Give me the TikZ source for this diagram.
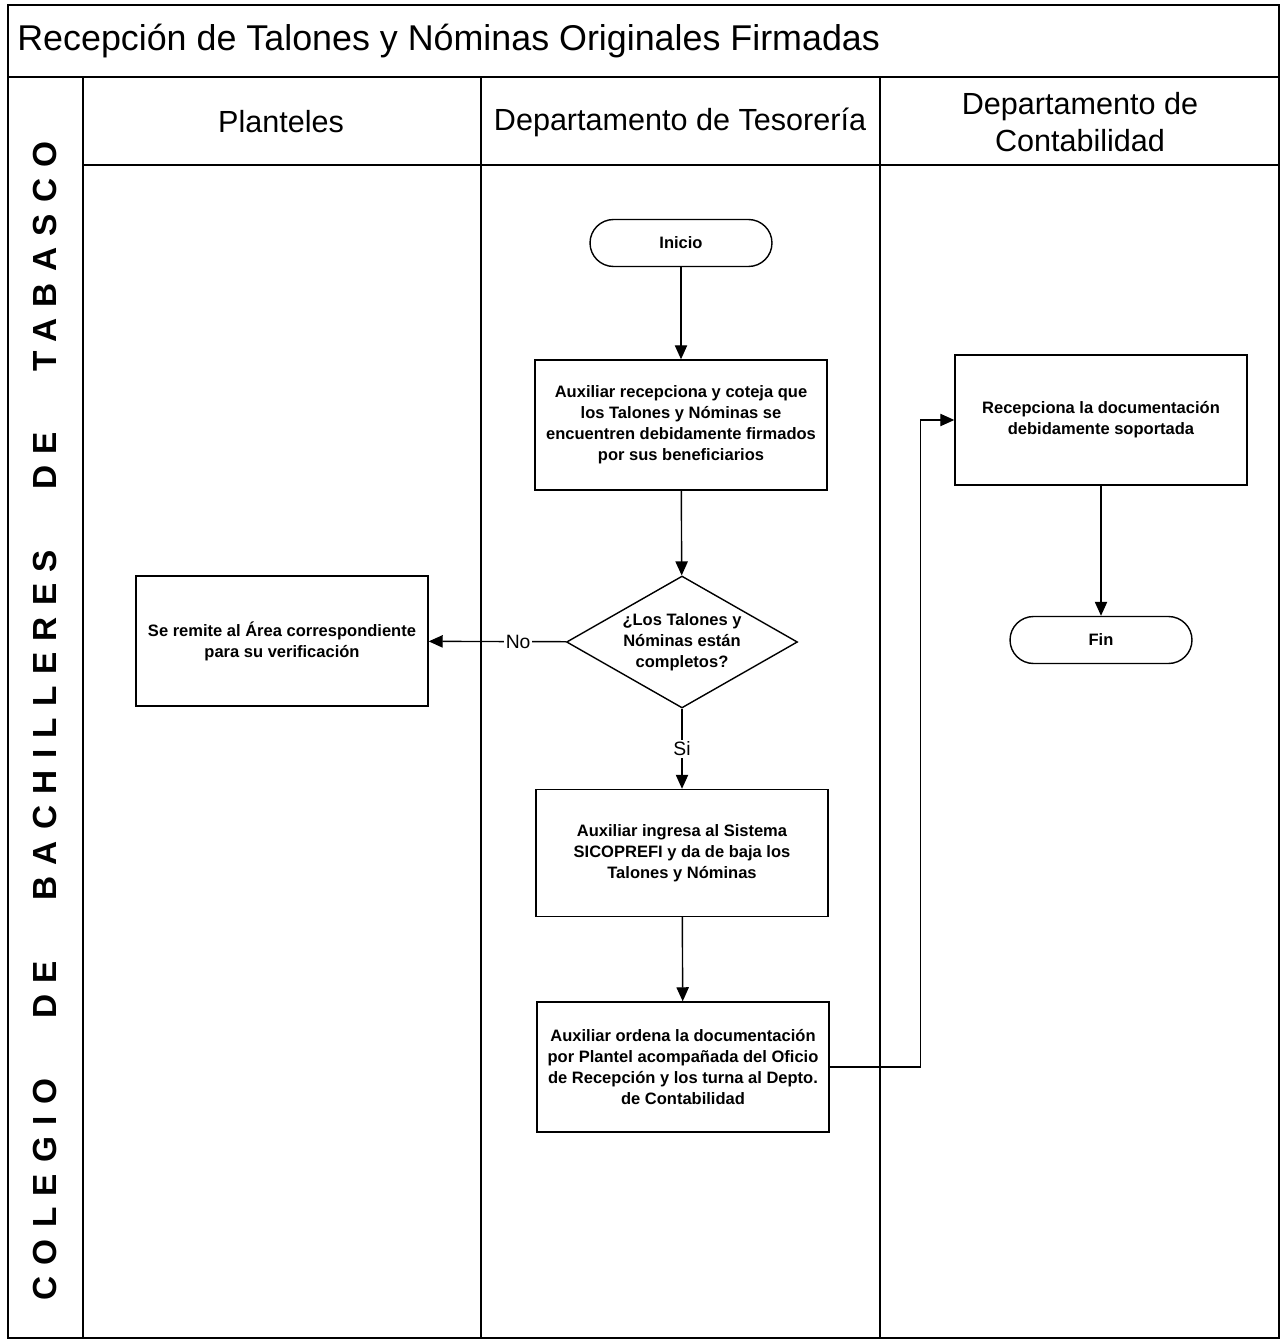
\documentclass[tikz,border=0pt]{standalone}
\usepackage{fontspec}
\setmainfont{Liberation Sans}
\usetikzlibrary{arrows.meta,shapes.geometric}

\begin{document}
\begin{tikzpicture}
[x=0.02cm,y=-0.02cm,
laneLine/.style={line width=0.9pt},
laneTitle/.style={align=center,font=\fontsize{17.4}{21}\selectfont},
processBox/.style={rectangle,draw,line width=0.8pt,inner sep=0pt,
minimum width=5.84cm,minimum height=2.6cm,align=center,
font=\bfseries\fontsize{9.4}{11.9}\selectfont},
termBox/.style={rectangle,draw,line width=0.8pt,rounded corners=0.47cm,
minimum width=3.64cm,minimum height=0.94cm,
font=\bfseries\fontsize{9.4}{11.9}\selectfont},
decisionBox/.style={diamond,draw,line width=0.8pt,inner sep=0pt,shape aspect=1.75,
minimum width=4.62cm,minimum height=2.64cm,align=center,
font=\bfseries\fontsize{9.4}{11.9}\selectfont},
flowArrow/.style={line width=0.8pt,-{Triangle[length=8pt,width=7pt]}},
flowLabel/.style={fill=white,inner sep=1pt,font=\fontsize{11}{13}\selectfont}]
  \useasboundingbox (0,0) rectangle (1281,1341);
  % frame, title band and swimlanes
  \draw[laneLine] (8,5) rectangle (1279,1338);
  \draw[laneLine] (8,77) -- (1279,77);
  \draw[laneLine] (83,77) -- (83,1338);
  \draw[laneLine] (83,165) -- (1279,165);
  \draw[laneLine] (481,77) -- (481,1338);
  \draw[laneLine] (880,77) -- (880,1338);
  \node[anchor=west,inner sep=0pt,font=\fontsize{20.4}{24}\selectfont] (mainTitle) at (17,41)
    {Recepción de Talones y Nóminas Originales Firmadas};
  \node[rotate=90,inner sep=0pt,
    font=\bfseries\fontsize{19}{19}\selectfont\addfontfeature{LetterSpace=34}] (colegioTag) at (45,721)
    {COLEGIO\hspace{1.8em}DE\hspace{1.8em}BACHILLERES\hspace{1.8em}DE\hspace{1.8em}TABASCO};
  \node[laneTitle] (plantelesLane) at (281,122) {Planteles};
  \node[laneTitle] (tesoreriaLane) at (680,122) {Departamento de Tesorería};
  \node[laneTitle] (contaLane) at (1080,122) {Departamento de\\Contabilidad};
  % flow
  \node[termBox] (inicioTerm) at (681,243) {Inicio};
  \node[processBox] (recepcionBox) at (681,425)
    {Auxiliar recepciona y coteja que\\los Talones y Nóminas se\\encuentren debidamente firmados\\por sus beneficiarios};
  \node[decisionBox] (completosCheck) at (682,642)
    {¿Los Talones y\\Nóminas están\\completos?};
  \node[processBox] (remiteBox) at (282,641)
    {Se remite al Área correspondiente\\para su verificación};
  \node[processBox,minimum height=2.54cm] (sistemaBox) at (682,853)
    {Auxiliar ingresa al Sistema\\SICOPREFI y da de baja los\\Talones y Nóminas};
  \node[processBox] (ordenaBox) at (683,1067)
    {Auxiliar ordena la documentación\\por Plantel acompañada del Oficio\\de Recepción y los turna al Depto.\\de Contabilidad};
  \node[processBox] (contaBox) at (1101,420)
    {Recepciona la documentación\\debidamente soportada};
  \node[termBox] (finTerm) at (1101,640) {Fin};
  \draw[flowArrow] (inicioTerm) -- (recepcionBox);
  \draw[flowArrow] (recepcionBox) -- (completosCheck);
  \draw[flowArrow] (completosCheck) -- node[flowLabel,pos=0.35] {No} (remiteBox);
  \draw[flowArrow] (completosCheck) -- node[flowLabel] {Si} (sistemaBox);
  \draw[flowArrow] (sistemaBox) -- (ordenaBox);
  \draw[flowArrow] (ordenaBox.east) -- ++(91,0) |- (contaBox.west);
  \draw[flowArrow] (contaBox) -- (finTerm);
\end{tikzpicture}
\end{document}
